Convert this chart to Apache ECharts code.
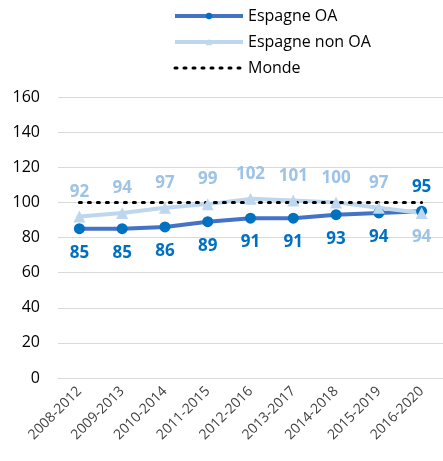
<!DOCTYPE html>
<html>
<head>
<meta charset="utf-8">
<script src="https://cdn.jsdelivr.net/npm/echarts@6/dist/echarts.min.js"></script>
<style>
  html, body { margin:0; padding:0; background:#fff; }
  #main { width:443px; height:461px; }
</style>
</head>
<body>
<div id="main"></div>
<script>
var periodes = ['2008-2012','2009-2013','2010-2014','2011-2015','2012-2016','2013-2017','2014-2018','2015-2019','2016-2020'];
var espagneOA = [85, 85, 86, 89, 91, 91, 93, 94, 95];
var espagneNonOA = [92, 94, 97, 99, 102, 101, 100, 97, 94];
var monde = [100, 100, 100, 100, 100, 100, 100, 100, 100];

var police = 'Open Sans, Liberation Sans, sans-serif';

// le dernier point : étiquettes inversées
var dataOA = espagneOA.map(function (v, i) {
    if (i === espagneOA.length - 1) return { value: v, label: { position: 'top' } };
    return v;
});
var dataNonOA = espagneNonOA.map(function (v, i) {
    if (i === espagneNonOA.length - 1) return { value: v, label: { position: 'bottom' } };
    return v;
});

var myChart = echarts.init(document.getElementById('main'));
var option = {
    animation: false,
    textStyle: { fontFamily: police },
    legend: {
        orient: 'vertical',
        left: 168,
        top: 3,
        itemWidth: 68,
        itemHeight: 8,
        itemGap: 10,
        textStyle: { fontSize: 16, color: '#000', fontFamily: police },
        data: [
            { name: 'Espagne OA', lineStyle: { width: 4 } },
            { name: 'Espagne non OA', lineStyle: { width: 4 } },
            { name: 'Monde', itemStyle: { opacity: 0 }, lineStyle: { width: 3, type: [2, 7], cap: 'round' } }
        ]
    },
    grid: { left: 58, top: 97, width: 391, height: 281 },
    xAxis: {
        type: 'category',
        data: periodes,
        axisLine: { lineStyle: { color: '#d9d9d9' } },
        axisTick: { lineStyle: { color: '#d9d9d9' }, length: 5 },
        axisLabel: { rotate: 45, fontSize: 14, color: '#404040', margin: 11, interval: 0 }
    },
    yAxis: {
        type: 'value',
        min: 0, max: 160, interval: 20,
        axisLine: { show: false },
        axisTick: { show: false },
        axisLabel: { fontSize: 16, color: '#000', margin: 18 },
        splitLine: { lineStyle: { color: '#d9d9d9' } }
    },
    series: [{
        name: 'Espagne OA',
        type: 'line',
        data: dataOA,
        symbol: 'circle',
        symbolSize: 11,
        lineStyle: { color: '#4472C4', width: 4 },
        itemStyle: { color: '#0070C0' },
        label: { show: true, position: 'bottom', distance: 10, color: '#0070C0', fontWeight: 'bold', fontSize: 17 }
    }, {
        name: 'Espagne non OA',
        type: 'line',
        data: dataNonOA,
        symbol: 'triangle',
        symbolSize: 12,
        lineStyle: { color: '#BDD7EE', width: 4 },
        itemStyle: { color: '#BDD7EE' },
        label: { show: true, position: 'top', distance: 10, color: '#9DC3E6', fontWeight: 'bold', fontSize: 17 }
    }, {
        name: 'Monde',
        type: 'line',
        data: monde,
        symbol: 'none',
        lineStyle: { color: '#000', width: 3, type: [2, 7], cap: 'round' },
        itemStyle: { color: '#000' }
    }]
};
myChart.setOption(option);
</script>
</body>
</html>
